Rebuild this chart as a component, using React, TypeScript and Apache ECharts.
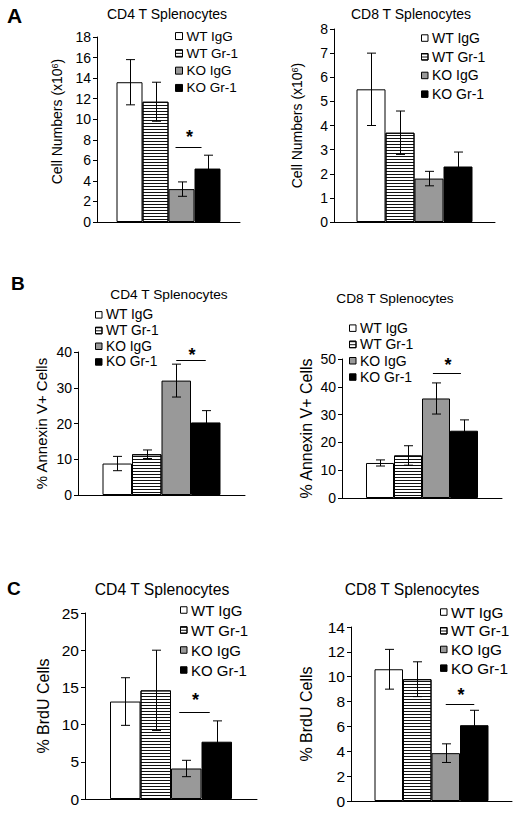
import React, { useEffect, useRef } from "react";
import * as echarts from "echarts";

const FONT = '"Liberation Sans", Arial, Helvetica, sans-serif';

// ---------------- data ----------------
const groups = ["WT IgG", "WT Gr-1", "KO IgG", "KO Gr-1"];

const panelTitles = [
  "CD4 T Splenocytes",
  "CD8 T Splenocytes",
  "CD4 T Splenocytes",
  "CD8 T Splenocytes",
  "CD4 T Splenocytes",
  "CD8 T Splenocytes",
];
const panelLetters = ["A", "", "B", "", "C", ""];
const yNames = [
  "Cell Numbers (x10{sup|6})",
  "Cell Numbers (x10{sup|6})",
  "% Annexin V+ Cells",
  "% Annexin V+ Cells",
  "% BrdU Cells",
  "% BrdU Cells",
];
const yMax = [18, 8, 40, 50, 25, 14];
const yStep = [2, 1, 10, 10, 5, 2];

// means per panel (WT IgG, WT Gr-1, KO IgG, KO Gr-1)
const aCD4Means = [13.6, 11.7, 3.2, 5.2];
const aCD4Errs = [2.2, 1.9, 0.7, 1.3];
const aCD8Means = [5.5, 3.7, 1.8, 2.3];
const aCD8Errs = [1.5, 0.9, 0.3, 0.6];
const bCD4Means = [8.8, 11.4, 32.0, 20.3];
const bCD4Errs = [2.0, 1.2, 4.6, 3.3];
const bCD8Means = [12.6, 15.3, 35.8, 24.2];
const bCD8Errs = [1.1, 3.5, 5.6, 3.9];
const cCD4Means = [13.1, 14.6, 4.1, 7.7];
const cCD4Errs = [3.2, 5.4, 1.1, 2.8];
const cCD8Means = [10.6, 9.8, 3.85, 6.1];
const cCD8Errs = [1.6, 1.4, 0.75, 1.2];

const allMeans = [aCD4Means, aCD8Means, bCD4Means, bCD8Means, cCD4Means, cCD8Means];
const allErrs = [aCD4Errs, aCD8Errs, bCD4Errs, bCD8Errs, cCD4Errs, cCD8Errs];
// significance bar height (null = none)
const sigLevels: (number | null)[] = [7.3, null, 37.7, 45, 11.7, 7.8];

// ---------------- layout ----------------
type Layout = {
  left: number; top: number; width: number; height: number; bw: number;
  tickFont: number; nameFont: number; nameGap: number; namePad: number;
  titleX: number; titleY: number; titleFont: number;
  legLeft: number; legTop: number; legFont: number; legPitch: number; icon: number;
  sigStart: number; starOff: number;
  letterX: number; letterY: number; letterFont: number;
};
const layouts: Layout[] = [
  { left: 97, top: 37, width: 143, height: 185, bw: 26, tickFont: 14, nameFont: 14, nameGap: 33, namePad: 16,
    titleX: 167, titleY: 14, titleFont: 14, legLeft: 175, legTop: 27.4, legFont: 13.5, legPitch: 17.3, icon: 7,
    sigStart: 0.27, starOff: 15, letterX: 7, letterY: 15.5, letterFont: 21 },
  { left: 334, top: 29, width: 161, height: 193, bw: 29, tickFont: 14, nameFont: 14, nameGap: 30, namePad: 0,
    titleX: 411, titleY: 14, titleFont: 14, legLeft: 421, legTop: 28.7, legFont: 14, legPitch: 18.7, icon: 6.5,
    sigStart: 0, starOff: 0, letterX: 0, letterY: 0, letterFont: 0 },
  { left: 78, top: 352, width: 167, height: 143, bw: 29.5, tickFont: 14, nameFont: 15, nameGap: 29, namePad: 0,
    titleX: 169, titleY: 294, titleFont: 13.7, legLeft: 95, legTop: 307, legFont: 13.8, legPitch: 15.7, icon: 6.5,
    sigStart: 0.5, starOff: 10, letterX: 11, letterY: 283.5, letterFont: 19 },
  { left: 342, top: 359, width: 160, height: 139, bw: 28, tickFont: 14, nameFont: 16, nameGap: 28, namePad: 0,
    titleX: 395, titleY: 298, titleFont: 13.7, legLeft: 349, legTop: 320, legFont: 14, legPitch: 16.3, icon: 6.5,
    sigStart: 0.39, starOff: 13, letterX: 0, letterY: 0, letterFont: 0 },
  { left: 85, top: 613, width: 172, height: 186, bw: 30.5, tickFont: 15.5, nameFont: 16, nameGap: 34, namePad: 0,
    titleX: 162, titleY: 589, titleFont: 15.7, legLeft: 180, legTop: 600, legFont: 15, legPitch: 20, icon: 6.5,
    sigStart: 0.27, starOff: 17, letterX: 7, letterY: 588.5, letterFont: 19 },
  { left: 351, top: 627, width: 161, height: 174, bw: 28.5, tickFont: 15.5, nameFont: 16, nameGap: 37, namePad: 0,
    titleX: 412, titleY: 589, titleFont: 15.7, legLeft: 440, legTop: 602.7, legFont: 15.3, legPitch: 18.7, icon: 6.5,
    sigStart: 0.5, starOff: 14, letterX: 0, letterY: 0, letterFont: 0 },
];

const barStyles: any[] = [
  { color: "#ffffff", borderColor: "#000", borderWidth: 1 },
  {
    color: "#ffffff", borderColor: "#000", borderWidth: 1,
    decal: { symbol: "rect", symbolSize: 1, dashArrayX: [1, 0], dashArrayY: [1, 2], rotation: 0, color: "#111" },
  },
  { color: "#999999", borderColor: "#000", borderWidth: 1 },
  { color: "#000000", borderColor: "#000", borderWidth: 1 },
];

function buildOption() {
  const grid: any[] = [];
  const xAxis: any[] = [];
  const yAxis: any[] = [];
  const series: any[] = [];
  const legend: any[] = [];
  const graphic: any[] = [];

  layouts.forEach((L, p) => {
    grid.push({ left: L.left, top: L.top, width: L.width, height: L.height, containLabel: false, outerBoundsMode: "none" });
    xAxis.push({
      type: "category", gridIndex: p, data: [""], boundaryGap: true,
      axisLine: { show: true, lineStyle: { color: "#000", width: 1 } },
      axisTick: { show: false }, axisLabel: { show: false }, splitLine: { show: false },
    });
    yAxis.push({
      type: "value", gridIndex: p, min: 0, max: yMax[p], interval: yStep[p],
      axisLine: { show: true, lineStyle: { color: "#000", width: 1 } },
      axisTick: { show: true, length: 4, inside: false, lineStyle: { color: "#000" } },
      splitLine: { show: false },
      axisLabel: { fontSize: L.tickFont, color: "#000", fontFamily: FONT, margin: 6 },
      name: yNames[p], nameLocation: "middle", nameGap: L.nameGap, nameMoveOverlap: false,
      nameTextStyle: {
        fontSize: L.nameFont, color: "#000", fontFamily: FONT,
        padding: [0, 0, 0, L.namePad],
        rich: { sup: { fontSize: 9, fontFamily: FONT, color: "#000", verticalAlign: "top", lineHeight: 9 } },
      },
    });

    groups.forEach((g, i) => {
      series.push({
        type: "bar", name: g, xAxisIndex: p, yAxisIndex: p,
        data: [allMeans[p][i]], barWidth: L.bw, barGap: "0%",
        itemStyle: barStyles[i], silent: true, z: 2,
      });
    });

    const bw = L.bw;
    series.push({
      type: "custom", name: "err" + p, xAxisIndex: p, yAxisIndex: p, silent: true, z: 5,
      encode: { x: 0, y: 1 },
      data: groups.map((_, i) => [0, allMeans[p][i], allErrs[p][i], i]),
      renderItem: (params: any, api: any) => {
        const cat = api.value(0), m = api.value(1), e = api.value(2), i = api.value(3);
        const cx = Math.round(api.coord([cat, m])[0] + (i - 1.5) * bw) + 0.5;
        const yT = api.coord([cat, m + e])[1];
        const yB = api.coord([cat, m - e])[1];
        const cap = 4.5;
        const st = { stroke: "#000", lineWidth: 1 };
        return {
          type: "group",
          children: [
            { type: "line", shape: { x1: cx, y1: yT, x2: cx, y2: yB }, style: st },
            { type: "line", shape: { x1: cx - cap, y1: yT, x2: cx + cap, y2: yT }, style: st },
            { type: "line", shape: { x1: cx - cap, y1: yB, x2: cx + cap, y2: yB }, style: st },
          ],
        };
      },
    });

    const sig = sigLevels[p];
    if (sig !== null) {
      const start = L.sigStart, off = L.starOff;
      series.push({
        type: "custom", name: "sig" + p, xAxisIndex: p, yAxisIndex: p, silent: true, z: 5,
        encode: { x: 0, y: 1 },
        data: [[0, sig]],
        renderItem: (params: any, api: any) => {
          const pt = api.coord([api.value(0), api.value(1)]);
          const x0 = pt[0] + start * bw;
          const x1 = x0 + bw;
          const y = Math.round(pt[1]) + 0.5;
          return {
            type: "group",
            children: [
              { type: "line", shape: { x1: x0, y1: y, x2: x1, y2: y }, style: { stroke: "#000", lineWidth: 1 } },
              {
                type: "text", x: (x0 + x1) / 2 + 1, y: y - off + 4,
                style: { text: "*", font: `bold 18px ${FONT}`, fill: "#000", align: "center", verticalAlign: "middle" },
              },
            ],
          };
        },
      });
    }

    legend.push({
      data: groups, orient: "vertical", left: L.legLeft, top: L.legTop,
      itemWidth: L.icon, itemHeight: L.icon, itemGap: 0, padding: 0, icon: "rect",
      selectedMode: false,
      textStyle: { fontFamily: FONT, fontSize: L.legFont, lineHeight: L.legPitch, color: "#000", padding: [0, 0, 0, -1] },
      itemStyle: { borderColor: "#000", borderWidth: 1 },
    });

    graphic.push({
      type: "text", x: L.titleX, y: L.titleY, silent: true,
      style: { text: panelTitles[p], font: `${L.titleFont}px ${FONT}`, fill: "#000", align: "center", verticalAlign: "middle" },
    });
    if (panelLetters[p]) {
      graphic.push({
        type: "text", x: L.letterX, y: L.letterY, silent: true,
        style: { text: panelLetters[p], font: `bold ${L.letterFont}px ${FONT}`, fill: "#000", align: "left", verticalAlign: "middle" },
      });
    }
  });

  return {
    animation: false,
    backgroundColor: "#ffffff",
    textStyle: { fontFamily: FONT },
    grid, xAxis, yAxis, series, legend, graphic,
  };
}

export default function App() {
  const ref = useRef<HTMLDivElement>(null);
  useEffect(() => {
    if (!ref.current) return;
    const chart = echarts.init(ref.current, null, { renderer: "svg" });
    chart.setOption(buildOption() as any);
    return () => chart.dispose();
  }, []);
  return (
    <div
      ref={ref}
      style={{ position: "absolute", left: 0, top: 0, width: 513, height: 813, background: "#fff" }}
    />
  );
}
